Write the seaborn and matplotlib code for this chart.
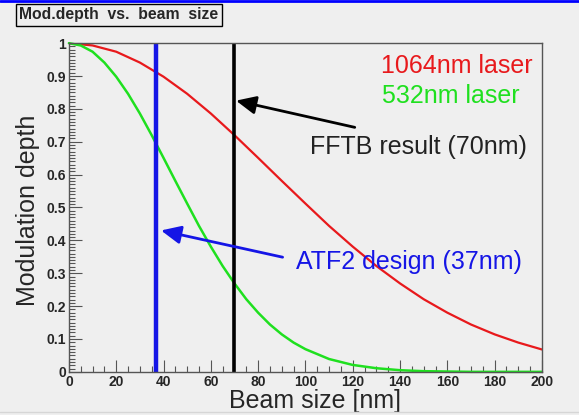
import numpy as np
import pandas as pd
import matplotlib
matplotlib.use("Agg")
import matplotlib.pyplot as plt
from matplotlib.ticker import MultipleLocator
import seaborn as sns

# --------------------------------------------------
# DATA
# --------------------------------------------------

red_size = [0, 10, 20, 30, 40, 50, 60, 70, 80, 90, 100,
            110, 120, 130, 140, 150, 160, 170, 180, 190, 200]
red_depth = [1.0, 0.993, 0.974, 0.941, 0.898, 0.846, 0.786, 0.720, 0.651,
             0.581, 0.512, 0.444, 0.381, 0.322, 0.269, 0.221, 0.180,
             0.144, 0.114, 0.089, 0.068]

green_size = [0, 5, 10, 15, 20, 25, 30, 35, 40, 45, 50, 55, 60, 65, 70,
              75, 80, 85, 90, 95, 100, 110, 120, 130, 140, 150, 160,
              170, 180, 190, 200]
green_depth = [1.0, 0.993, 0.974, 0.941, 0.898, 0.846, 0.786, 0.720,
               0.651, 0.581, 0.512, 0.444, 0.381, 0.322, 0.269, 0.221,
               0.180, 0.144, 0.114, 0.089, 0.069, 0.039, 0.021, 0.011,
               0.005, 0.002, 0.001, 0.0, 0.0, 0.0, 0.0]

atf2_size = 37
fftb_size = 70

x_ticks = [0, 20, 40, 60, 80, 100, 120, 140, 160, 180, 200]
y_ticks = [0, 0.1, 0.2, 0.3, 0.4, 0.5, 0.6, 0.7, 0.8, 0.9, 1]
y_tick_labels = ["0", "0.1", "0.2", "0.3", "0.4", "0.5",
                 "0.6", "0.7", "0.8", "0.9", "1"]

# --------------------------------------------------
# STYLE
# --------------------------------------------------

sns.set_style("ticks")
plt.rcParams["font.family"] = ["Liberation Sans", "DejaVu Sans"]

bg = "#efefef"

fig = plt.figure(figsize=(5.79, 4.15), dpi=100, facecolor=bg)
ax = fig.add_axes([0.119, 0.104, 0.817, 0.792])
ax.set_facecolor(bg)

red_df = pd.DataFrame({"size": red_size, "depth": red_depth})
green_df = pd.DataFrame({"size": green_size, "depth": green_depth})

sns.lineplot(data=red_df, x="size", y="depth", ax=ax,
             color="#e8191c", linewidth=1.6)
sns.lineplot(data=green_df, x="size", y="depth", ax=ax,
             color="#1fe01f", linewidth=1.8, clip_on=False)

ax.axvline(atf2_size, color="#1515e6", linewidth=3.2)
ax.axvline(fftb_size, color="black", linewidth=2.6)

ax.set_xlim(0, 200)
ax.set_ylim(0, 1)

ax.set_xticks(x_ticks)
ax.set_yticks(y_ticks)
ax.set_yticklabels(y_tick_labels)
ax.xaxis.set_minor_locator(MultipleLocator(5))
ax.yaxis.set_minor_locator(MultipleLocator(0.01))

ax.tick_params(axis="both", which="major", direction="in", length=9,
               width=0.8, color="#555555", labelsize=10, pad=2)
ax.tick_params(axis="both", which="minor", direction="in", length=4.5,
               width=0.8, color="#555555")
for lbl in ax.get_xticklabels() + ax.get_yticklabels():
    lbl.set_fontweight("bold")

for s in ax.spines.values():
    s.set_color("#555555")
    s.set_linewidth(1.0)

ax.set_xlabel("Beam size [nm]", fontsize=18)
ax.set_ylabel("Modulation depth", fontsize=18)
ax.xaxis.set_label_coords(0.52, -0.052)
ax.yaxis.set_label_coords(-0.062, 0.49)

# --------------------------------------------------
# LABELS AND ARROWS
# --------------------------------------------------

ax.text(196, 0.93, "1064nm laser", color="#e8191c", fontsize=18,
        ha="right", va="center")
ax.text(190.5, 0.84, "532nm laser", color="#1fe01f", fontsize=18,
        ha="right", va="center")

ax.annotate("", xy=(69.5, 0.827), xytext=(122, 0.742),
            arrowprops=dict(arrowstyle="-|>,head_length=1.2,head_width=0.55",
                            color="black", lw=2))
ax.text(102, 0.684, "FFTB result (70nm)", color="#222222", fontsize=18,
        ha="left", va="center")

ax.annotate("", xy=(37.8, 0.432), xytext=(91.5, 0.347),
            arrowprops=dict(arrowstyle="-|>,head_length=1.2,head_width=0.55",
                            color="#1515e6", lw=2))
ax.text(96, 0.334, "ATF2 design (37nm)", color="#1515e6", fontsize=18,
        ha="left", va="center")

# --------------------------------------------------
# TITLE BOX
# --------------------------------------------------

fig.text(0.033, 0.964, "Mod.depth  vs.  beam  size", fontsize=11.3,
         fontweight="bold", ha="left", va="center",
         bbox=dict(boxstyle="square,pad=0.22", facecolor="#eeeeee",
                   edgecolor="black", linewidth=1.0))

# thin blue border at the top, faint grey one at the bottom
fig.add_artist(plt.Line2D([0, 1], [0.998, 0.998], color="#0000ff",
                          linewidth=2, transform=fig.transFigure))
fig.add_artist(plt.Line2D([0, 1], [0.007, 0.007], color="#d6d6d6",
                          linewidth=1, transform=fig.transFigure))

fig.savefig("out.png", dpi=100, facecolor=bg)
